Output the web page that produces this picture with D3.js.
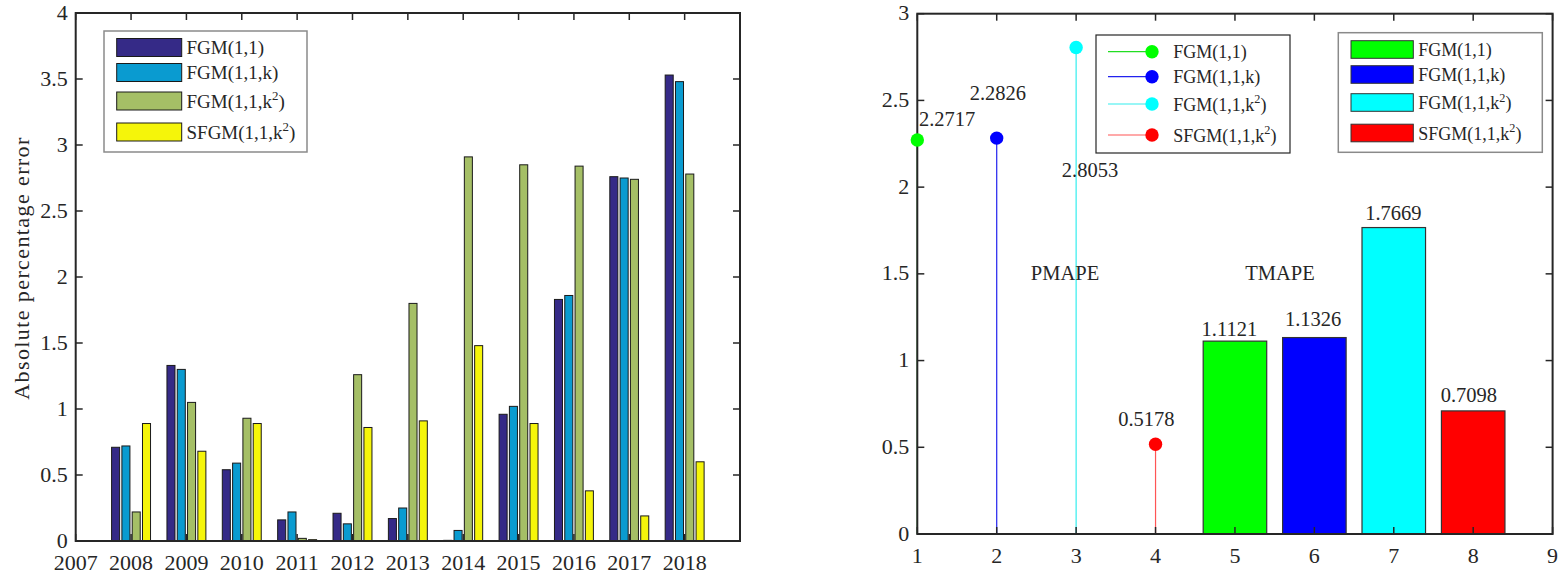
<!DOCTYPE html>
<html>
<head>
<meta charset="utf-8">
<script src="https://cdnjs.cloudflare.com/ajax/libs/d3/7.8.5/d3.min.js"></script>
<style>
body { margin: 0; background: #fff; }
svg text { font-family: "Liberation Serif", "Times New Roman", "DejaVu Serif", serif; fill: #262626; }
</style>
</head>
<body>
<svg id="chart" width="1562" height="578" font-family="Liberation Serif, serif"></svg>
<script>
// left panel: absolute percentage error per year
var years = [2008, 2009, 2010, 2011, 2012, 2013, 2014, 2015, 2016, 2017, 2018];
var yearTicks = [2007, 2008, 2009, 2010, 2011, 2012, 2013, 2014, 2015, 2016, 2017, 2018];
var models = ["FGM(1,1)", "FGM(1,1,k)", "FGM(1,1,k^2)", "SFGM(1,1,k^2)"];
var apeFGM   = [0.71, 1.33, 0.54, 0.16, 0.21, 0.17, 0.005, 0.96, 1.83, 2.76, 3.53];
var apeFGMk  = [0.72, 1.30, 0.59, 0.22, 0.13, 0.25, 0.08, 1.02, 1.86, 2.75, 3.48];
var apeFGMk2 = [0.22, 1.05, 0.93, 0.02, 1.26, 1.80, 2.91, 2.85, 2.84, 2.74, 2.78];
var apeSFGM  = [0.89, 0.68, 0.89, 0.01, 0.86, 0.91, 1.48, 0.89, 0.38, 0.19, 0.60];
var leftTicksY = [0, 0.5, 1, 1.5, 2, 2.5, 3, 3.5, 4];

// right panel: PMAPE stems and TMAPE bars
var pmape = [2.2717, 2.2826, 2.8053, 0.5178];
var tmape = [1.1121, 1.1326, 1.7669, 0.7098];
var pmapeX = [1, 2, 3, 4];
var tmapeX = [5, 6, 7, 8];
var rightTicksX = [1, 2, 3, 4, 5, 6, 7, 8, 9];
var rightTicksY = [0, 0.5, 1, 1.5, 2, 2.5, 3];
// text() anchors in data units, as placed in the original figure
var pmapeLabelAt = [[1.02, 2.35], [1.66, 2.50], [2.82, 2.06], [3.53, 0.62]];
var tmapeLabelAt = [[4.58, 1.14], [5.63, 1.20], [6.64, 1.81], [7.59, 0.76]];

var barColors = ["#352a87", "#0a9bd0", "#a5bf66", "#f5f50a"];
var rgbColors = ["#00ff00", "#0000ff", "#00ffff", "#ff0000"];
var stemLineColors = ["#22dd22", "#2222ee", "#33eeee", "#ff5555"];
var AXIS = "#262626";

var svg = d3.select("#chart");

function add_label(sel, name, size) {
    var parts = name.split("^2");
    sel.append("tspan").text(parts[0]);
    if (parts.length > 1) {
        sel.append("tspan").attr("dy", -size * 0.4).attr("font-size", size * 0.68).text("2");
        sel.append("tspan").attr("dy", size * 0.4).text(parts[1]);
    }
}

function draw_frame(g, x, y, xt, yt, xlabels) {
    var x0 = x.range()[0], x1 = x.range()[1];
    var y0 = y.range()[0], y1 = y.range()[1];
    var tk = 7;
    // inward ticks on all four sides
    xt.forEach(function(v) {
        g.append("line").attr("x1", x(v)).attr("x2", x(v)).attr("y1", y0).attr("y2", y0 - tk)
            .attr("stroke", AXIS).attr("stroke-width", 1.5);
        g.append("line").attr("x1", x(v)).attr("x2", x(v)).attr("y1", y1).attr("y2", y1 + tk)
            .attr("stroke", AXIS).attr("stroke-width", 1.5);
    });
    yt.forEach(function(v) {
        g.append("line").attr("x1", x0).attr("x2", x0 + tk).attr("y1", y(v)).attr("y2", y(v))
            .attr("stroke", AXIS).attr("stroke-width", 1.5);
        g.append("line").attr("x1", x1).attr("x2", x1 - tk).attr("y1", y(v)).attr("y2", y(v))
            .attr("stroke", AXIS).attr("stroke-width", 1.5);
    });
    g.append("rect").attr("x", x0).attr("y", y1).attr("width", x1 - x0).attr("height", y0 - y1)
        .attr("fill", "none").attr("stroke", AXIS).attr("stroke-width", 2);
    g.selectAll(".ytl").data(yt).enter().append("text")
        .attr("x", x0 - 8).attr("y", function(d) { return y(d); })
        .attr("dy", "0.3em").attr("text-anchor", "end").attr("font-size", 22)
        .text(function(d) { return d; });
    g.selectAll(".xtl").data(xlabels).enter().append("text")
        .attr("x", function(d) { return x(d); }).attr("y", y0 + 29)
        .attr("text-anchor", "middle").attr("font-size", 22)
        .text(function(d) { return d; });
}

// ---------- left panel ----------
var xL = d3.scaleLinear().domain([2007, 2019]).range([75.7, 740]);
var yL = d3.scaleLinear().domain([0, 4]).range([541, 13]);
var inner = d3.scaleBand().domain(d3.range(4)).range([-20.6, 20.6]).paddingInner(0.22).paddingOuter(0.11);
var series = [apeFGM, apeFGMk, apeFGMk2, apeSFGM];

var left = svg.append("g");
series.forEach(function(vals, s) {
    left.selectAll(".b" + s).data(vals).enter().append("rect")
        .attr("x", function(d, i) { return xL(years[i]) + inner(s); })
        .attr("y", function(d) { return yL(d); })
        .attr("width", inner.bandwidth())
        .attr("height", function(d) { return yL(0) - yL(d); })
        .attr("fill", barColors[s])
        .attr("stroke", "#1a1a1a").attr("stroke-width", 1);
});
draw_frame(left, xL, yL, yearTicks, leftTicksY, yearTicks);

left.append("text")
    .attr("transform", "translate(29," + 268 + ") rotate(-90)")
    .attr("text-anchor", "middle").attr("font-size", 22).attr("letter-spacing", 1.4)
    .text("Absolute percentage error");

var legL = left.append("g");
legL.append("rect").attr("x", 104).attr("y", 31).attr("width", 203).attr("height", 121)
    .attr("fill", "#fff").attr("stroke", "#8a8a8a").attr("stroke-width", 1.5);
var legLRows = [47.5, 72.5, 101, 132];
models.forEach(function(m, i) {
    legL.append("rect").attr("x", 116.7).attr("y", legLRows[i] - 9).attr("width", 65).attr("height", 18)
        .attr("fill", barColors[i]).attr("stroke", "#1a1a1a").attr("stroke-width", 1);
    var t = legL.append("text").attr("x", 186.5).attr("y", legLRows[i] + 6.5).attr("font-size", 19);
    add_label(t, m, 19);
});

// ---------- right panel ----------
var xR = d3.scaleLinear().domain([1, 9]).range([917.3, 1552.6]);
var yR = d3.scaleLinear().domain([0, 3]).range([534, 13.7]);
var right = svg.append("g");

right.selectAll(".tbar").data(tmape).enter().append("rect")
    .attr("x", function(d, i) { return xR(tmapeX[i] - 0.4); })
    .attr("y", function(d) { return yR(d); })
    .attr("width", xR(1.8) - xR(1))
    .attr("height", function(d) { return yR(0) - yR(d); })
    .attr("fill", function(d, i) { return rgbColors[i]; })
    .attr("stroke", "#333").attr("stroke-width", 1.2);

right.selectAll(".stem").data(pmape).enter().append("line")
    .attr("x1", function(d, i) { return xR(pmapeX[i]); })
    .attr("x2", function(d, i) { return xR(pmapeX[i]); })
    .attr("y1", yR(0)).attr("y2", function(d) { return yR(d); })
    .attr("stroke", function(d, i) { return stemLineColors[i]; }).attr("stroke-width", 1.2);

draw_frame(right, xR, yR, rightTicksX, rightTicksY, rightTicksX);

right.selectAll(".dot").data(pmape).enter().append("circle")
    .attr("cx", function(d, i) { return xR(pmapeX[i]); })
    .attr("cy", function(d) { return yR(d); })
    .attr("r", 6.7)
    .attr("fill", function(d, i) { return rgbColors[i]; });

right.selectAll(".plab").data(pmape).enter().append("text")
    .attr("x", function(d, i) { return xR(pmapeLabelAt[i][0]); })
    .attr("y", function(d, i) { return yR(pmapeLabelAt[i][1]); })
    .attr("font-size", 20.5)
    .text(function(d) { return d.toFixed(4); });
right.selectAll(".tlab").data(tmape).enter().append("text")
    .attr("x", function(d, i) { return xR(tmapeLabelAt[i][0]); })
    .attr("y", function(d, i) { return yR(tmapeLabelAt[i][1]); })
    .attr("font-size", 20.5)
    .text(function(d) { return d.toFixed(4); });

right.append("text").attr("x", xR(2.43)).attr("y", yR(1.465)).attr("font-size", 20.5).text("PMAPE");
right.append("text").attr("x", xR(5.13)).attr("y", yR(1.465)).attr("font-size", 20.5).text("TMAPE");

// stem legend
var legS = right.append("g");
legS.append("rect").attr("x", 1096).attr("y", 35).attr("width", 194).attr("height", 118)
    .attr("fill", "#fff").attr("stroke", AXIS).attr("stroke-width", 1.2);
var legSRows = [51.7, 76.7, 104, 135];
models.forEach(function(m, i) {
    legS.append("line").attr("x1", 1108).attr("x2", 1152).attr("y1", legSRows[i]).attr("y2", legSRows[i])
        .attr("stroke", stemLineColors[i]).attr("stroke-width", 1.2);
    legS.append("circle").attr("cx", 1152).attr("cy", legSRows[i]).attr("r", 6.7).attr("fill", rgbColors[i]);
    var t = legS.append("text").attr("x", 1173.3).attr("y", legSRows[i] + 6.5).attr("font-size", 18);
    add_label(t, m, 18);
});

// bar legend
var legB = right.append("g");
legB.append("rect").attr("x", 1338.3).attr("y", 32.7).attr("width", 204).attr("height", 119.6)
    .attr("fill", "#fff").attr("stroke", "#8a8a8a").attr("stroke-width", 1.5);
var legBRows = [49.5, 74.5, 102.5, 133];
models.forEach(function(m, i) {
    legB.append("rect").attr("x", 1351).attr("y", legBRows[i] - 8.8).attr("width", 62.3).attr("height", 17.6)
        .attr("fill", rgbColors[i]).attr("stroke", "#333").attr("stroke-width", 1);
    var t = legB.append("text").attr("x", 1418.3).attr("y", legBRows[i] + 6.5).attr("font-size", 18);
    add_label(t, m, 18);
});
</script>
</body>
</html>
